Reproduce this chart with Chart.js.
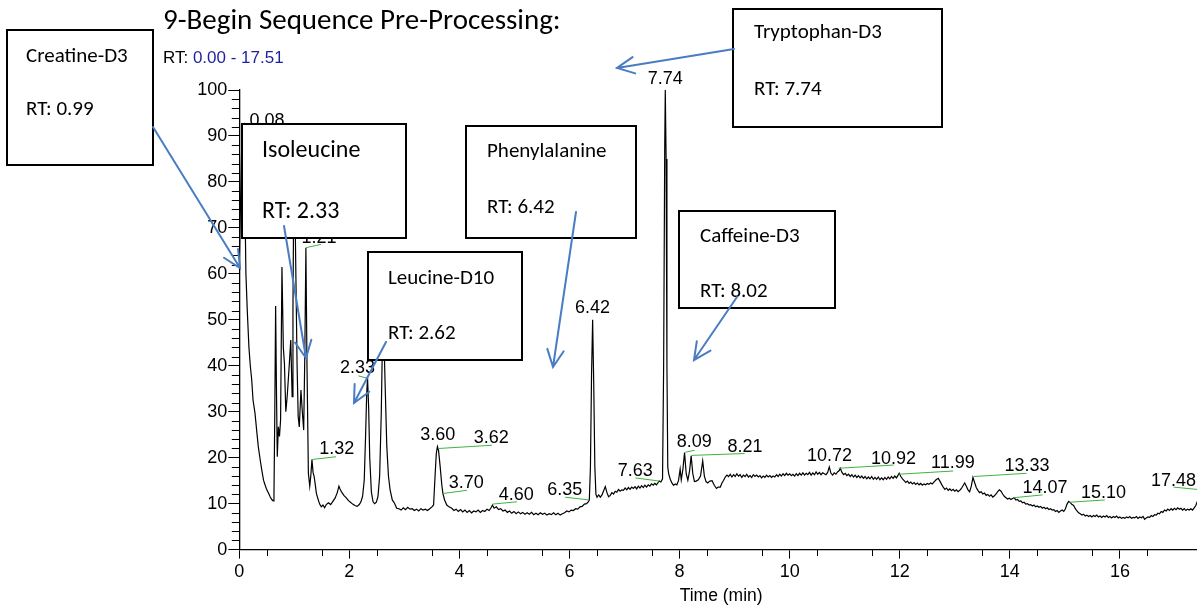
<!DOCTYPE html>
<html>
<head>
<meta charset="utf-8">
<title>9-Begin Sequence Pre-Processing</title>
<script src="https://cdn.jsdelivr.net/npm/chart.js@4.4.1/dist/chart.umd.min.js"></script>
<style>
  html, body { margin: 0; padding: 0; background: #fff; overflow: hidden; }
  #wrap { width: 1197px; height: 608px; overflow: hidden; }
  canvas { display: block; }
</style>
</head>
<body>
<div id="wrap"><canvas id="chromatogram" width="1203" height="608"></canvas></div>
<script>
// retention time (min)
const rtMin = [
  0.00, 0.02, 0.04, 0.06, 0.08, 0.10, 0.12, 0.145, 0.175, 0.20,
  0.225, 0.25, 0.285, 0.32, 0.345, 0.38, 0.41, 0.44, 0.47, 0.50,
  0.53, 0.56, 0.59, 0.615, 0.63, 0.645, 0.66, 0.675, 0.69, 0.71,
  0.73, 0.75, 0.775, 0.80, 0.82, 0.845, 0.87, 0.89, 0.91, 0.935,
  0.96, 0.975, 0.99, 1.01, 1.03, 1.05, 1.07, 1.09, 1.12, 1.145,
  1.17, 1.19, 1.21, 1.23, 1.255, 1.28, 1.30, 1.32, 1.34, 1.36,
  1.38, 1.40, 1.43, 1.46, 1.49, 1.52, 1.55, 1.58, 1.62, 1.66,
  1.70, 1.74, 1.78, 1.81, 1.83, 1.86, 1.90, 1.94, 1.98, 2.02,
  2.06, 2.10, 2.14, 2.18, 2.21, 2.24, 2.27, 2.295, 2.315, 2.33,
  2.35, 2.37, 2.40, 2.43, 2.46, 2.49, 2.52, 2.55, 2.58, 2.60,
  2.62, 2.645, 2.68, 2.71, 2.74, 2.78, 2.82, 2.86, 2.90, 2.94,
  2.98, 3.02, 3.06, 3.10, 3.14, 3.18, 3.22, 3.26, 3.30, 3.34,
  3.38, 3.42, 3.46, 3.50, 3.53, 3.56, 3.58, 3.60, 3.62, 3.65,
  3.68, 3.70, 3.73, 3.77, 3.81, 3.86, 3.90, 3.94, 3.98, 4.02,
  4.06, 4.10, 4.14, 4.18, 4.22, 4.26, 4.30, 4.34, 4.38, 4.42,
  4.46, 4.50, 4.54, 4.58, 4.60, 4.63, 4.67, 4.71, 4.75, 4.79,
  4.83, 4.87, 4.91, 4.95, 4.99, 5.03, 5.07, 5.11, 5.15, 5.19,
  5.23, 5.27, 5.31, 5.35, 5.39, 5.43, 5.47, 5.51, 5.55, 5.59,
  5.63, 5.67, 5.71, 5.75, 5.79, 5.83, 5.87, 5.91, 5.95, 5.99,
  6.03, 6.07, 6.11, 6.15, 6.19, 6.23, 6.27, 6.31, 6.34, 6.36,
  6.38, 6.40, 6.42, 6.44, 6.46, 6.48, 6.50, 6.53, 6.56, 6.59,
  6.62, 6.65, 6.68, 6.71, 6.74, 6.77, 6.80, 6.83, 6.86, 6.89,
  6.92, 6.95, 6.98, 7.01, 7.04, 7.07, 7.10, 7.13, 7.16, 7.19,
  7.22, 7.25, 7.28, 7.31, 7.34, 7.37, 7.40, 7.43, 7.46, 7.49,
  7.52, 7.55, 7.58, 7.61, 7.63, 7.66, 7.69, 7.71, 7.73, 7.74,
  7.755, 7.77, 7.785, 7.80, 7.83, 7.86, 7.89, 7.92, 7.95, 7.98,
  8.01, 8.03, 8.06, 8.09, 8.12, 8.15, 8.18, 8.21, 8.24, 8.27,
  8.30, 8.34, 8.38, 8.42, 8.45, 8.48, 8.51, 8.55, 8.59, 8.63,
  8.67, 8.70, 8.74, 8.77, 8.80, 8.83, 8.86, 8.89, 8.92, 8.95,
  8.98, 9.01, 9.04, 9.07, 9.10, 9.13, 9.16, 9.19, 9.22, 9.25,
  9.28, 9.31, 9.34, 9.37, 9.40, 9.43, 9.46, 9.49, 9.52, 9.55,
  9.58, 9.61, 9.64, 9.67, 9.70, 9.73, 9.76, 9.79, 9.82, 9.85,
  9.88, 9.91, 9.94, 9.97, 10.00, 10.03, 10.06, 10.09, 10.12, 10.15,
  10.18, 10.21, 10.24, 10.27, 10.30, 10.33, 10.36, 10.39, 10.42, 10.45,
  10.48, 10.51, 10.54, 10.57, 10.60, 10.63, 10.66, 10.69, 10.72, 10.75,
  10.78, 10.81, 10.84, 10.87, 10.90, 10.92, 10.95, 10.98, 11.01, 11.04,
  11.07, 11.10, 11.13, 11.16, 11.19, 11.22, 11.25, 11.28, 11.31, 11.34,
  11.37, 11.40, 11.43, 11.46, 11.49, 11.52, 11.55, 11.58, 11.61, 11.64,
  11.67, 11.70, 11.73, 11.76, 11.79, 11.82, 11.85, 11.88, 11.91, 11.94,
  11.97, 11.99, 12.02, 12.05, 12.08, 12.11, 12.14, 12.17, 12.20, 12.23,
  12.26, 12.29, 12.32, 12.35, 12.38, 12.41, 12.44, 12.47, 12.50, 12.53,
  12.56, 12.59, 12.62, 12.66, 12.70, 12.73, 12.76, 12.79, 12.82, 12.85,
  12.88, 12.91, 12.94, 12.97, 13.00, 13.03, 13.06, 13.09, 13.12, 13.15,
  13.18, 13.21, 13.24, 13.27, 13.30, 13.33, 13.36, 13.39, 13.42, 13.45,
  13.48, 13.51, 13.54, 13.57, 13.60, 13.63, 13.66, 13.69, 13.72, 13.75,
  13.78, 13.81, 13.84, 13.87, 13.90, 13.93, 13.96, 13.99, 14.02, 14.05,
  14.08, 14.11, 14.14, 14.17, 14.20, 14.23, 14.26, 14.29, 14.32, 14.35,
  14.38, 14.41, 14.44, 14.47, 14.50, 14.53, 14.56, 14.59, 14.62, 14.65,
  14.68, 14.71, 14.74, 14.77, 14.80, 14.83, 14.86, 14.89, 14.92, 14.95,
  14.98, 15.01, 15.04, 15.07, 15.10, 15.13, 15.16, 15.19, 15.22, 15.25,
  15.28, 15.31, 15.34, 15.37, 15.40, 15.43, 15.46, 15.49, 15.52, 15.55,
  15.58, 15.61, 15.64, 15.67, 15.70, 15.73, 15.76, 15.79, 15.82, 15.85,
  15.88, 15.91, 15.94, 15.97, 16.00, 16.03, 16.06, 16.09, 16.12, 16.15,
  16.18, 16.21, 16.24, 16.27, 16.30, 16.33, 16.36, 16.39, 16.42, 16.45,
  16.48, 16.51, 16.54, 16.57, 16.60, 16.63, 16.66, 16.69, 16.72, 16.75,
  16.78, 16.81, 16.84, 16.87, 16.90, 16.93, 16.96, 16.99, 17.02, 17.05,
  17.08, 17.11, 17.14, 17.17, 17.20, 17.23, 17.26, 17.29, 17.32, 17.35,
  17.38, 17.41, 17.44, 17.47, 17.49, 17.51,
];

// relative abundance (%), same order as rtMin
const relAbundance = [
  62, 74, 86, 91, 92, 78, 60, 52, 44, 40,
  37, 32.5, 29.7, 25.4, 22.4, 19.5, 17.2, 15.1, 14.0, 13.0,
  12.3, 11.5, 10.9, 10.6, 12, 30, 53, 35, 20.2, 26.7,
  24.6, 28.2, 61.5, 44, 40.5, 30, 33.3, 36.9, 40.6, 45.6,
  33.3, 52, 80, 76, 58, 40, 28.9, 26.7, 34.7, 30,
  26, 42, 65.7, 40, 16.6, 13.8, 16.2, 19.6, 16.8, 15.9,
  14.2, 12.3, 11.0, 9.9, 9.3, 9.7, 9.1, 9.8, 10.2, 9.8,
  10.5, 11.2, 12.4, 13.8, 13.2, 12.5, 11.8, 11.3, 10.7, 10.3,
  9.9, 9.6, 9.4, 9.8, 10.4, 11.6, 15.1, 25, 34, 37.4,
  31, 20, 12.5, 10.4, 10.0, 10.3, 11.6, 16, 30, 45,
  50.4, 38, 22.4, 16, 13, 10.8, 10.1, 9.0, 8.9, 8.6,
  9.1, 8.7, 9.2, 8.8, 8.9, 8.5, 8.8, 8.4, 8.9, 8.6,
  8.8, 8.5, 8.9, 9.3, 9.7, 16.7, 21.0, 22.4, 21.6, 18.0,
  14.0, 12.2, 10.8, 9.7, 9.3, 9.0, 8.5, 8.8, 8.3, 8.7,
  8.2, 8.6, 8.1, 8.5, 8.0, 8.4, 8.2, 8.6, 8.1, 8.5,
  8.3, 8.8, 8.5, 9.2, 9.7, 9.0, 9.3, 8.7, 8.9, 8.4,
  8.6, 8.1, 8.4, 7.9, 8.3, 7.8, 8.2, 7.8, 8.1, 7.7,
  8.0, 7.7, 8.1, 7.6, 7.9, 7.6, 8.0, 7.7, 7.9, 7.5,
  7.8, 7.6, 8.0, 7.6, 7.9, 7.5, 7.8, 8.0, 8.4, 8.2,
  8.6, 8.5, 8.9, 8.8, 9.3, 9.4, 9.9, 10.0, 10.4, 10.8,
  18, 38, 50, 36, 18, 12, 11.4, 11.9, 11.4, 11.9,
  12.8, 13.7, 12.4, 11.5, 11.8, 12.4, 12.1, 12.7, 12.5, 13.1,
  12.7, 13.0, 12.9, 13.4, 13.0, 13.5, 13.1, 13.6, 13.3, 13.7,
  13.2, 13.8, 13.4, 13.9, 13.5, 14.0, 13.6, 14.1, 13.8, 14.3,
  14.0, 14.4, 14.1, 14.6, 14.9, 14.7, 15.4, 40, 88, 100,
  85, 40, 18, 16.6, 15.3, 14.5, 14.0, 14.3, 14.1, 15.0,
  17.5, 15.2, 17.5, 21.1, 16.5, 15.1, 17.0, 20.4, 16.5, 14.8,
  14.9, 15.2, 16.0, 19.3, 16.0, 14.8, 14.5, 14.9, 15.0, 14.0,
  13.3, 13.6, 13.6, 14.5, 15.1, 15.8, 16.2, 15.9, 16.4, 15.8,
  16.3, 15.9, 16.5, 16.0, 16.3, 15.7, 16.2, 15.9, 16.4, 15.8,
  16.1, 15.7, 16.3, 15.9, 16.2, 15.8, 16.1, 15.6, 16.0, 15.7,
  16.2, 15.8, 16.1, 15.7, 16.0, 15.8, 16.3, 15.9, 16.4, 16.0,
  16.5, 16.1, 16.6, 16.2, 16.5, 16.1, 16.4, 16.0, 16.5, 16.1,
  16.6, 16.2, 16.7, 16.2, 16.6, 16.3, 16.8, 16.2, 16.7, 16.3,
  16.9, 16.4, 16.8, 16.3, 16.7, 16.5, 16.3, 16.8, 18.0, 16.6,
  16.2, 16.7, 16.4, 16.9, 17.2, 17.7, 16.8, 16.3, 16.6, 16.1,
  16.4, 15.9, 16.3, 15.8, 16.2, 15.7, 16.1, 15.6, 16.0, 15.5,
  15.9, 15.4, 15.8, 15.4, 15.9, 15.3, 15.7, 15.3, 15.8, 15.2,
  15.6, 15.2, 15.7, 15.3, 15.8, 15.4, 15.9, 15.5, 16.0, 15.6,
  16.2, 16.6, 15.9, 15.4, 15.0, 14.6, 14.9, 14.4, 14.7, 14.3,
  14.6, 14.2, 14.5, 14.1, 14.4, 14.0, 14.3, 14.1, 14.4, 14.2,
  14.5, 14.3, 14.7, 15.2, 15.5, 14.9, 14.2, 13.6, 13.1, 13.4,
  12.9, 13.2, 12.8, 13.1, 12.7, 13.0, 12.6, 12.9, 13.3, 13.9,
  14.5, 13.8, 13.0, 12.6, 13.8, 15.7, 14.6, 13.5, 12.9, 12.4,
  12.6, 12.1, 12.3, 11.8, 12.0, 11.6, 11.9, 11.4, 11.7, 12.1,
  12.6, 13.0, 12.7, 12.1, 11.6, 11.3, 11.0, 11.2, 10.9, 11.1,
  11.3, 10.8, 10.9, 10.5, 10.6, 10.2, 10.3, 9.9, 10.0, 9.7,
  9.8, 9.5, 9.7, 9.3, 9.5, 9.2, 9.4, 9.0, 9.2, 8.9,
  9.1, 8.7, 8.9, 8.6, 8.7, 8.3, 8.5, 8.1, 8.4, 8.6,
  8.3, 8.9, 9.9, 10.5, 10.2, 9.8, 9.6, 8.9, 8.4, 8.0,
  7.8, 7.5, 7.7, 7.3, 7.5, 7.2, 7.4, 7.1, 7.4, 7.2,
  7.5, 7.1, 7.3, 7.0, 7.3, 7.1, 7.4, 7.0, 7.2, 6.9,
  7.2, 7.0, 7.3, 6.9, 7.1, 6.8, 7.0, 6.8, 7.1, 6.9,
  7.2, 6.8, 7.0, 6.9, 7.2, 6.8, 7.1, 6.9, 7.2, 6.6,
  6.9, 7.1, 7.0, 7.4, 7.2, 7.6, 7.5, 7.9, 7.8, 8.3,
  8.1, 8.6, 8.4, 8.8, 8.5, 8.9, 8.6, 9.0, 8.7, 9.1,
  8.8, 9.0, 8.6, 8.9, 8.5, 8.8, 8.6, 8.9, 8.6, 9.1,
  9.6, 10.6, 11.8, 12.9, 13.1, 12.6,
];

const xTickValues = [0, 2, 4, 6, 8, 10, 12, 14, 16];
const yTickValues = [0, 10, 20, 30, 40, 50, 60, 70, 80, 90, 100];

// peak labels: label centre and leader line, in (min, %) units
const peakLabels = [
  { text: "0.08", at: [0.504, 93.3] },
  { text: "1.21", at: [1.449, 67.8], leader: [[1.213, 65.7], [1.485, 66.4]] },
  { text: "1.32", at: [1.771, 21.8], leader: [[1.316, 19.6], [1.758, 20.2]] },
  { text: "2.33", at: [2.149, 39.5], leader: [[2.322, 37.3], [2.164, 37.8]] },
  { text: "2.62", at: [2.631, 52.1] },
  { text: "3.60", at: [3.604, 24.9] },
  { text: "3.62", at: [4.576, 24.2], leader: [[3.618, 22.0], [4.589, 22.7]] },
  { text: "3.70", at: [4.122, 14.4], leader: [[3.698, 12.2], [4.135, 12.9]] },
  { text: "4.60", at: [5.031, 11.9], leader: [[4.600, 9.9], [5.044, 10.4]] },
  { text: "6.35", at: [5.913, 13.0], leader: [[5.922, 11.4], [6.358, 10.8]] },
  { text: "6.42", at: [6.418, 52.5] },
  { text: "7.63", at: [7.195, 17.1], leader: [[7.195, 15.6], [7.636, 14.9]] },
  { text: "7.74", at: [7.740, 102.4] },
  { text: "8.09", at: [8.267, 23.3], leader: [[8.104, 21.2], [8.273, 21.6]] },
  { text: "8.21", at: [9.189, 22.4], leader: [[8.213, 20.5], [9.182, 20.9]] },
  { text: "10.72", at: [10.722, 20.4] },
  { text: "10.92", at: [11.885, 19.6], leader: [[10.891, 17.7], [11.891, 18.4]] },
  { text: "11.99", at: [12.967, 18.8], leader: [[11.982, 16.4], [12.971, 17.1]] },
  { text: "13.33", at: [14.313, 18.2], leader: [[13.345, 15.9], [14.304, 16.6]] },
  { text: "14.07", at: [14.640, 13.3], leader: [[14.080, 11.3], [14.595, 11.9]] },
  { text: "15.10", at: [15.704, 12.4], leader: [[15.080, 10.3], [15.727, 10.8]] },
  { text: "17.48", at: [16.976, 15.0], leader: [[16.976, 13.6], [17.480, 13.0]] },
];

// text boxes pasted on the figure, in page pixels
const callouts = [
  { lines: ["Creatine-D3", "RT: 0.99"], box: [7, 30, 153, 165], textX: 26, textY: [57, 110], size: 21, arrow: [[153, 127], [240, 268]] },
  { lines: ["Isoleucine", "RT: 2.33"], box: [242, 124, 406, 238], textX: 262, textY: [151, 212], size: 24, arrow: [[284, 226], [306, 358]] },
  { lines: ["Leucine-D10", "RT: 2.62"], box: [368, 252, 522, 360], textX: 388, textY: [279, 334], size: 21, arrow: [[386, 342], [354, 403]] },
  { lines: ["Phenylalanine", "RT: 6.42"], box: [466, 126, 636, 238], textX: 487, textY: [152, 208], size: 21, arrow: [[576, 212], [553, 367]] },
  { lines: ["Caffeine-D3", "RT: 8.02"], box: [679, 211, 835, 308], textX: 700, textY: [237, 292], size: 21, arrow: [[737, 297], [694, 360]] },
  { lines: ["Tryptophan-D3", "RT: 7.74"], box: [733, 9, 942, 127], textX: 754, textY: [33, 90], size: 21, arrow: [[734, 49], [617, 68]] },
];

const ARIAL = "'Liberation Sans', Arial, sans-serif";
const CALIBRI = "Carlito, Lato, 'Open Sans', sans-serif";

const toPixel = (chart, point) => {
  return [chart.scales.x.getPixelForValue(point[0]), chart.scales.y.getPixelForValue(point[1])];
};

const drawArrow = (ctx, from, to) => {
  const angle = Math.atan2(to[1] - from[1], to[0] - from[0]);
  const head = 19;
  const spread = 0.45;
  ctx.beginPath();
  ctx.moveTo(from[0], from[1]);
  ctx.lineTo(to[0], to[1]);
  ctx.moveTo(to[0] - head * Math.cos(angle - spread), to[1] - head * Math.sin(angle - spread));
  ctx.lineTo(to[0], to[1]);
  ctx.lineTo(to[0] - head * Math.cos(angle + spread), to[1] - head * Math.sin(angle + spread));
  ctx.stroke();
};

const decorations = {
  id: "decorations",
  afterDraw(chart) {
    const ctx = chart.ctx;
    const { left, bottom } = chart.chartArea;
    const x = chart.scales.x;
    const y = chart.scales.y;

    ctx.save();

    // minor ticks
    ctx.strokeStyle = "#000";
    ctx.lineWidth = 1;
    ctx.beginPath();
    for (let t = 0.5; t < 17.51; t += 1) {
      const px = Math.round(x.getPixelForValue(t)) + 0.5;
      ctx.moveTo(px, bottom);
      ctx.lineTo(px, bottom + 6.5);
    }
    for (let v = 2; v < 100; v += 2) {
      if (v % 10 === 0) continue;
      const py = Math.round(y.getPixelForValue(v)) + 0.5;
      ctx.moveTo(left - 7.5, py);
      ctx.lineTo(left, py);
    }
    ctx.stroke();

    // title
    ctx.fillStyle = "#000";
    ctx.textBaseline = "middle";
    ctx.textAlign = "left";
    ctx.font = "29px " + CALIBRI;
    ctx.fillText("9-Begin Sequence Pre-Processing:", 163, 22);
    ctx.font = "17px " + ARIAL;
    ctx.fillText("RT:", 163, 58);
    const rtWidth = ctx.measureText("RT: ").width;
    ctx.fillStyle = "#1f1f9f";
    ctx.fillText("0.00 - 17.51", 163 + rtWidth, 58);

    // peak labels and their green leaders
    ctx.strokeStyle = "#3fb33f";
    ctx.lineWidth = 1;
    peakLabels.forEach((label) => {
      if (label.leader) {
        const a = toPixel(chart, label.leader[0]);
        const b = toPixel(chart, label.leader[1]);
        ctx.beginPath();
        ctx.moveTo(a[0], a[1]);
        ctx.lineTo(b[0], b[1]);
        ctx.stroke();
      }
    });
    ctx.fillStyle = "#000";
    ctx.textAlign = "center";
    ctx.font = "18px " + ARIAL;
    peakLabels.forEach((label) => {
      const p = toPixel(chart, label.at);
      ctx.fillText(label.text, p[0], p[1]);
    });

    // callout boxes
    callouts.forEach((c) => {
      const [x0, y0, x1, y1] = c.box;
      ctx.fillStyle = "#fff";
      ctx.fillRect(x0, y0, x1 - x0, y1 - y0);
      ctx.strokeStyle = "#000";
      ctx.lineWidth = 2;
      ctx.strokeRect(x0, y0, x1 - x0, y1 - y0);
      ctx.fillStyle = "#000";
      ctx.textAlign = "left";
      ctx.font = c.size + "px " + CALIBRI;
      c.lines.forEach((line, i) => {
        ctx.fillText(line, c.textX, c.textY[i]);
      });
    });

    // arrows
    ctx.strokeStyle = "#4a7cc4";
    ctx.lineWidth = 2;
    ctx.lineCap = "round";
    callouts.forEach((c) => {
      drawArrow(ctx, c.arrow[0], c.arrow[1]);
    });

    ctx.restore();
  },
};

const ctx = document.getElementById("chromatogram").getContext("2d");

new Chart(ctx, {
  type: "line",
  data: {
    datasets: [
      {
        data: rtMin.map((t, i) => {
          return { x: t, y: relAbundance[i] };
        }),
        borderColor: "#000",
        borderWidth: 1.2,
        pointRadius: 0,
        tension: 0,
        fill: false,
      },
    ],
  },
  options: {
    responsive: false,
    devicePixelRatio: 1,
    animation: false,
    layout: {
      padding: { top: 90, right: 0, bottom: 0, left: 0 },
    },
    plugins: {
      legend: { display: false },
      tooltip: { enabled: false },
    },
    scales: {
      x: {
        type: "linear",
        min: 0,
        max: 17.51,
        afterBuildTicks: (scale) => {
          scale.ticks = xTickValues.map((v) => {
            return { value: v };
          });
        },
        afterFit: (scale) => {
          scale.height = 58.4;
        },
        grid: {
          drawOnChartArea: false,
          drawTicks: true,
          tickLength: 9,
          tickColor: "#000",
        },
        border: { display: true, color: "#000", width: 1.3 },
        ticks: {
          autoSkip: false,
          maxRotation: 0,
          padding: 3,
          color: "#000",
          font: { family: ARIAL, size: 18 },
        },
        title: {
          display: true,
          text: "Time (min)",
          color: "#000",
          font: { family: ARIAL, size: 17.5 },
          padding: { top: 0, bottom: 1 },
        },
      },
      y: {
        min: 0,
        max: 100,
        afterBuildTicks: (scale) => {
          scale.ticks = yTickValues.map((v) => {
            return { value: v };
          });
        },
        afterFit: (scale) => {
          scale.width = 239.3;
        },
        grid: {
          drawOnChartArea: false,
          drawTicks: true,
          tickLength: 11,
          tickColor: "#000",
        },
        border: { display: true, color: "#000", width: 1.3 },
        ticks: {
          autoSkip: false,
          padding: 1,
          color: "#000",
          font: { family: ARIAL, size: 18 },
        },
      },
    },
  },
  plugins: [decorations],
});
</script>
</body>
</html>
